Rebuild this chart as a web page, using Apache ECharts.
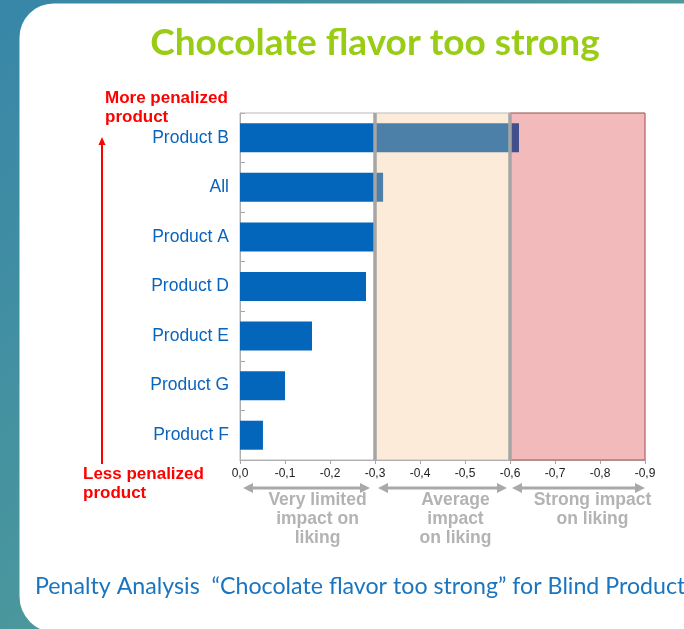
<!DOCTYPE html>
<html>
<head>
<meta charset="utf-8">
<script src="https://cdn.jsdelivr.net/npm/echarts@6/dist/echarts.min.js"></script>
<style>
html,body{margin:0;padding:0;background:#fff;}
#main{width:684px;height:629px;}
</style>
</head>
<body>
<div id="main"></div>
<script>
// ---- data ----
var categories = ['Product B', 'All', 'Product A', 'Product D', 'Product E', 'Product G', 'Product F'];
var penalties = [-0.62, -0.318, -0.298, -0.28, -0.16, -0.10, -0.051];
var zoneBounds = [0, -0.3, -0.6, -0.9];
var zoneLabels = [['Very limited', 'impact on', 'liking'], ['Average', 'impact', 'on liking'], ['Strong impact', 'on liking']];
var titleText = 'Chocolate flavor too strong';
var footerText = 'Penalty Analysis  \u201cChocolate flavor too strong\u201d for Blind Products';

var chart = echarts.init(document.getElementById('main'));
var arial = 'Arial, "Liberation Sans", sans-serif';

var option = {
  animation: false,
  grid: {left: 240, right: 39, top: 113, bottom: 169, show: true, borderColor: '#b8b8b8', borderWidth: 1, z: 1},
  xAxis: {
    type: 'value', min: -0.9, max: 0, interval: 0.1, inverse: true,
    axisLine: {show: true, lineStyle: {color: '#a6a6a6', width: 1}},
    axisTick: {show: true, length: 4, lineStyle: {color: '#a6a6a6'}},
    splitLine: {show: false},
    axisLabel: {color: '#222', fontFamily: arial, fontSize: 12, margin: 8,
      formatter: function (v) { return (Math.round(v * 10) / 10).toFixed(1).replace('.', ','); }}
  },
  yAxis: {
    type: 'category', data: categories, inverse: true,
    axisLine: {show: true, lineStyle: {color: '#a6a6a6', width: 1}},
    axisTick: {show: true, inside: true, length: 5, lineStyle: {color: '#a6a6a6'}},
    axisLabel: {color: '#0a64bd', fontFamily: arial, fontSize: 17.5, margin: 11}
  },
  series: [
    {
      type: 'bar', data: penalties, barWidth: 29, z: 2,
      itemStyle: {color: '#0366bb'}
    },
    {
      type: 'line', data: [], z: 5, silent: true,
      markArea: {
        silent: true, z: 4,
        data: [
          [{xAxis: zoneBounds[1], itemStyle: {color: 'rgba(248,188,128,0.3)'}}, {xAxis: zoneBounds[2]}],
          [{xAxis: zoneBounds[2], itemStyle: {color: 'rgba(212,28,28,0.3)', borderColor: '#b86a6a', borderWidth: 1}}, {xAxis: zoneBounds[3]}]
        ]
      },
      markLine: {
        silent: true, symbol: 'none', label: {show: false}, z: 6,
        lineStyle: {color: '#a5a5a5', width: 3.5, type: 'solid'},
        data: [{xAxis: zoneBounds[1]}, {xAxis: zoneBounds[2]}]
      }
    }
  ]
};
chart.setOption(option);

function px(v) { return chart.convertToPixel({xAxisIndex: 0}, v); }

var graphics = [
  {type: 'rect', z: -10, silent: true, shape: {x: 0, y: 0, width: 684, height: 629},
    style: {fill: new echarts.graphic.LinearGradient(0, 0, 1, 1, [{offset: 0, color: '#3886a8'}, {offset: 1, color: '#5eab90'}])}},
  {type: 'rect', z: -9, silent: true, shape: {x: 19.5, y: 3.5, width: 700, height: 629, r: [34, 26, 0, 36]},
    style: {fill: '#ffffff'}},
  {type: 'text', z: 10, style: {x: 375, y: 62, text: titleText, fill: '#99cc14', font: 'bold 37px Lato, sans-serif', textAlign: 'center', textVerticalAlign: 'bottom'}},
  {type: 'text', z: 10, style: {x: 35, y: 587, text: footerText, fill: '#1a75c0', font: '23.2px Lato, sans-serif', textVerticalAlign: 'middle'}},
  // red labels
  {type: 'text', z: 10, style: {x: 105, y: 98, text: 'More penalized', fill: '#ff0000', font: 'bold 17px ' + arial, textVerticalAlign: 'middle'}},
  {type: 'text', z: 10, style: {x: 105, y: 117, text: 'product', fill: '#ff0000', font: 'bold 17px ' + arial, textVerticalAlign: 'middle'}},
  {type: 'text', z: 10, style: {x: 83, y: 474, text: 'Less penalized', fill: '#ff0000', font: 'bold 17px ' + arial, textVerticalAlign: 'middle'}},
  {type: 'text', z: 10, style: {x: 83, y: 493, text: 'product', fill: '#ff0000', font: 'bold 17px ' + arial, textVerticalAlign: 'middle'}},
  {type: 'line', z: 10, shape: {x1: 102, y1: 464, x2: 102, y2: 143}, style: {stroke: '#ff0000', lineWidth: 2}},
  {type: 'polygon', z: 10, shape: {points: [[98.5, 145], [105.5, 145], [102, 137]]}, style: {fill: '#ff0000'}}
];

var arrowY = 488;
var insets = [[3, 5], [3, 3], [2, 0]];
var textOffsets = [10, 13, 15];
for (var i = 0; i < 3; i++) {
  var a = px(zoneBounds[i]) + insets[i][0];
  var b = px(zoneBounds[i + 1]) - insets[i][1];
  var c = '#a9a9a9';
  graphics.push({type: 'line', z: 10, shape: {x1: a + 6, y1: arrowY, x2: b - 6, y2: arrowY}, style: {stroke: c, lineWidth: 3}});
  graphics.push({type: 'polygon', z: 10, shape: {points: [[a, arrowY], [a + 10, arrowY - 5], [a + 10, arrowY + 5]]}, style: {fill: c}});
  graphics.push({type: 'polygon', z: 10, shape: {points: [[b, arrowY], [b - 10, arrowY - 5], [b - 10, arrowY + 5]]}, style: {fill: c}});
  var cx = (px(zoneBounds[i]) + px(zoneBounds[i + 1])) / 2 + textOffsets[i];
  for (var j = 0; j < zoneLabels[i].length; j++) {
    graphics.push({type: 'text', z: 10, style: {x: cx, y: 500 + j * 19, text: zoneLabels[i][j], fill: '#b3b3b3',
      font: 'bold 17.5px ' + arial, textAlign: 'center', textVerticalAlign: 'middle'}});
  }
}
chart.setOption({graphic: graphics});
</script>
</body>
</html>
